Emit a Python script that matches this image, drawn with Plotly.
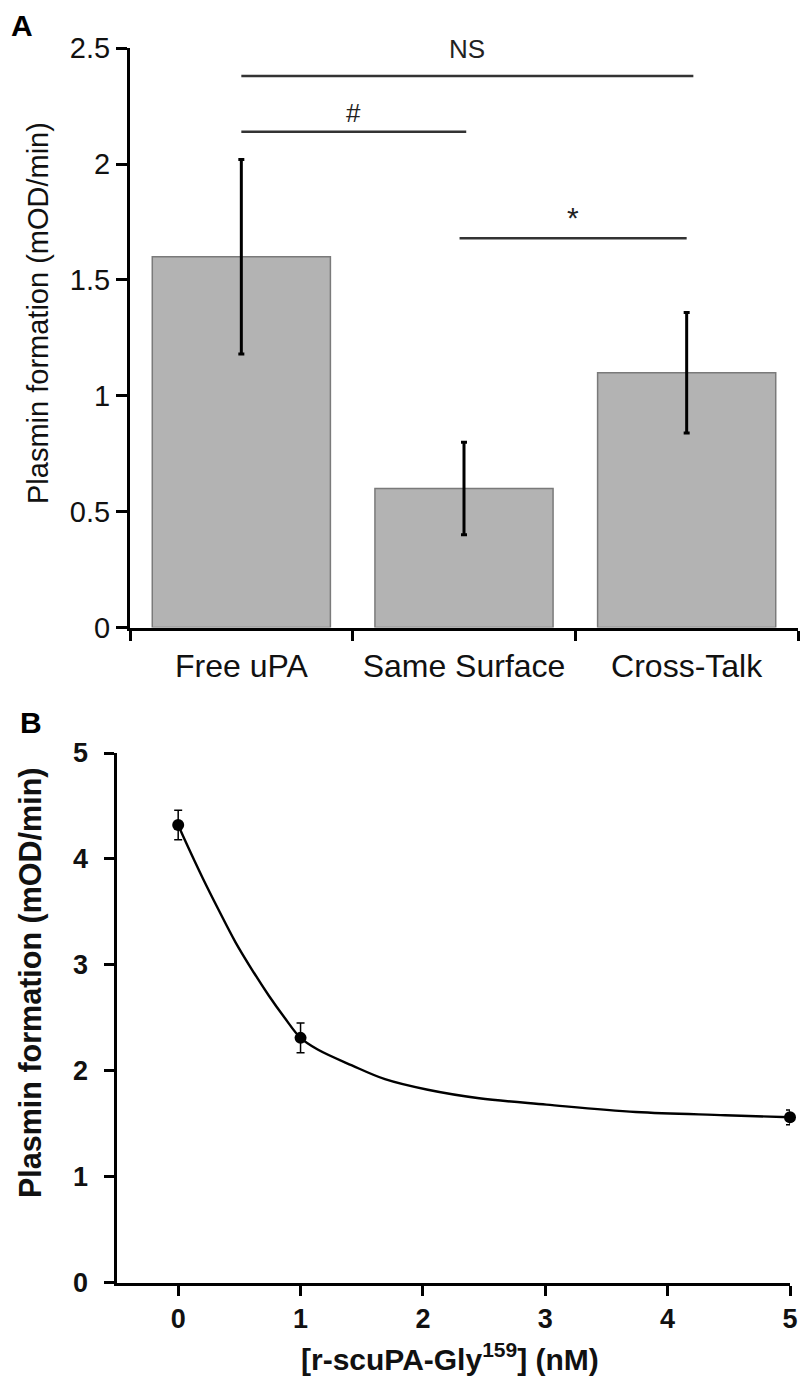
import plotly.graph_objects as go

# ---------------- Panel A data ----------------
categories = ["Free uPA", "Same Surface", "Cross-Talk"]
bar_values = [1.60, 0.60, 1.10]
bar_errors = [0.42, 0.20, 0.26]
a_yticks = [0, 0.5, 1, 1.5, 2, 2.5]
a_yticklabels = ["0", "0.5", "1", "1.5", "2", "2.5"]

# significance brackets: (start index, end index), level, label
sig_starts = [0, 0, 0.98]
sig_ends = [2.03, 1.01, 2.0]
sig_levels = [2.38, 2.14, 1.68]
sig_labels = ["NS", "#", "*"]

# ---------------- Panel B data ----------------
conc = [0, 1, 5]
plasmin = [4.32, 2.31, 1.56]
plasmin_err = [0.14, 0.14, 0.07]
fit_x = [0, 0.05, 0.20, 0.33, 0.47, 0.60, 0.74, 0.87, 1.0, 1.14, 1.42, 1.69, 2.04, 2.46, 3.01, 3.74, 4.47, 5.0]
fit_y = [4.32, 4.19, 3.82, 3.52, 3.21, 2.96, 2.71, 2.50, 2.31, 2.20, 2.05, 1.92, 1.82, 1.74, 1.68, 1.61, 1.58, 1.56]
b_xticks = [0, 1, 2, 3, 4, 5]
b_yticks = [0, 1, 2, 3, 4, 5]

W, H = 800, 1377
FA = "Liberation Sans, Arial, sans-serif"

fig = go.Figure()

fig.add_trace(go.Bar(
    x=categories, y=bar_values, width=0.8,
    marker=dict(color="#b3b3b3", line=dict(color="#7a7a7a", width=1.5)),
    error_y=dict(type="data", array=bar_errors, color="black", thickness=3, width=3),
    xaxis="x", yaxis="y", showlegend=False,
))

fig.add_trace(go.Scatter(
    x=fit_x, y=fit_y, mode="lines",
    line=dict(color="black", width=2.4, shape="spline", smoothing=1),
    xaxis="x2", yaxis="y2", showlegend=False,
))
fig.add_trace(go.Scatter(
    x=conc, y=plasmin, mode="markers",
    marker=dict(color="black", size=12),
    error_y=dict(type="data", array=plasmin_err, color="black", thickness=1.5, width=4),
    xaxis="x2", yaxis="y3", showlegend=False, cliponaxis=False,
))

# significance lines
for s, e, lvl, lab in zip(sig_starts, sig_ends, sig_levels, sig_labels):
    fig.add_shape(type="line", xref="x", yref="y", x0=s, x1=e, y0=lvl, y1=lvl,
                  line=dict(color="#333333", width=2.5))
    fig.add_annotation(x=(s + e) / 2, y=lvl, xref="x", yref="y", text=lab,
                       showarrow=False, xanchor="center", yanchor="bottom",
                       yshift={"NS": 10, "#": 2, "*": 2}[lab],
                       font=dict(family=FA, size=26 if lab != "*" else 30, color="#222222"))

axis_common = dict(showline=True, linecolor="black", linewidth=3, ticks="outside",
                   tickcolor="black", tickwidth=3, showgrid=False, zeroline=False,
                   automargin=False)

b_ydomain = [1 - 1282.5 / H, 1 - 753 / H]

fig.update_layout(
    template="none",
    width=W, height=H,
    margin=dict(l=0, r=0, t=0, b=0, pad=0),
    paper_bgcolor="white", plot_bgcolor="white",
    xaxis=dict(domain=[130 / W, 798 / W], anchor="y", type="category",
               range=[-0.5, 2.5], tickson="boundaries", ticklen=10,
               ticklabelstandoff=8,
               tickfont=dict(family=FA, size=32, color="#111111"),
               **axis_common),
    yaxis=dict(domain=[1 - 627.5 / H, 1 - 48.3 / H], anchor="x", range=[0, 2.5],
               tickvals=a_yticks, ticktext=a_yticklabels, ticklen=11,
               tickfont=dict(family=FA, size=29, color="#111111"),
               **axis_common),
    xaxis2=dict(domain=[117 / W, 790 / W], anchor="y2", range=[-0.5, 5.0],
                tickvals=b_xticks, ticklen=10,
                tickfont=dict(family=FA, size=27, color="#111111", weight="bold"),
                **axis_common),
    yaxis2=dict(domain=b_ydomain, anchor="x2", range=[0, 5],
                tickvals=b_yticks, ticklen=10, showticklabels=False,
                **axis_common),
    # label-only axis overlaid on yaxis2, carrying its tick labels further left
    yaxis3=dict(domain=b_ydomain, overlaying="y2", anchor="free", position=88 / W,
                range=[0, 5], tickvals=b_yticks, ticks="", showline=False,
                showgrid=False, zeroline=False, automargin=False,
                tickfont=dict(family=FA, size=27, color="#111111", weight="bold")),
)

# axis titles and panel letters
fig.add_annotation(x=38 / W, y=1 - 313 / H, xref="paper", yref="paper",
                   xanchor="center", yanchor="middle",
                   text="Plasmin formation (mOD/min)", textangle=-90, showarrow=False,
                   font=dict(family=FA, size=29, color="#111111"))
fig.add_annotation(x=30 / W, y=1 - 983 / H, xref="paper", yref="paper",
                   xanchor="center", yanchor="middle",
                   text="Plasmin formation (mOD/min)", textangle=-90, showarrow=False,
                   font=dict(family=FA, size=30.5, color="#111111", weight="bold"))
fig.add_annotation(x=450 / W, y=1 - 1357 / H, xref="paper", yref="paper",
                   xanchor="center", yanchor="middle",
                   text="[r-scuPA-Gly<sup>159</sup>] (nM)", showarrow=False,
                   font=dict(family=FA, size=30, color="#111111", weight="bold"))
fig.add_annotation(x=22 / W, y=1 - 25 / H, xref="paper", yref="paper", text="A",
                   xanchor="center", yanchor="middle",
                   showarrow=False, font=dict(family=FA, size=30, color="black", weight="bold"))
fig.add_annotation(x=31 / W, y=1 - 722 / H, xref="paper", yref="paper", text="B",
                   xanchor="center", yanchor="middle",
                   showarrow=False, font=dict(family=FA, size=30, color="black", weight="bold"))

fig.write_html("out.html", config={"displayModeBar": False},
               post_script="document.body.style.margin='0px';document.body.style.overflow='hidden';")
